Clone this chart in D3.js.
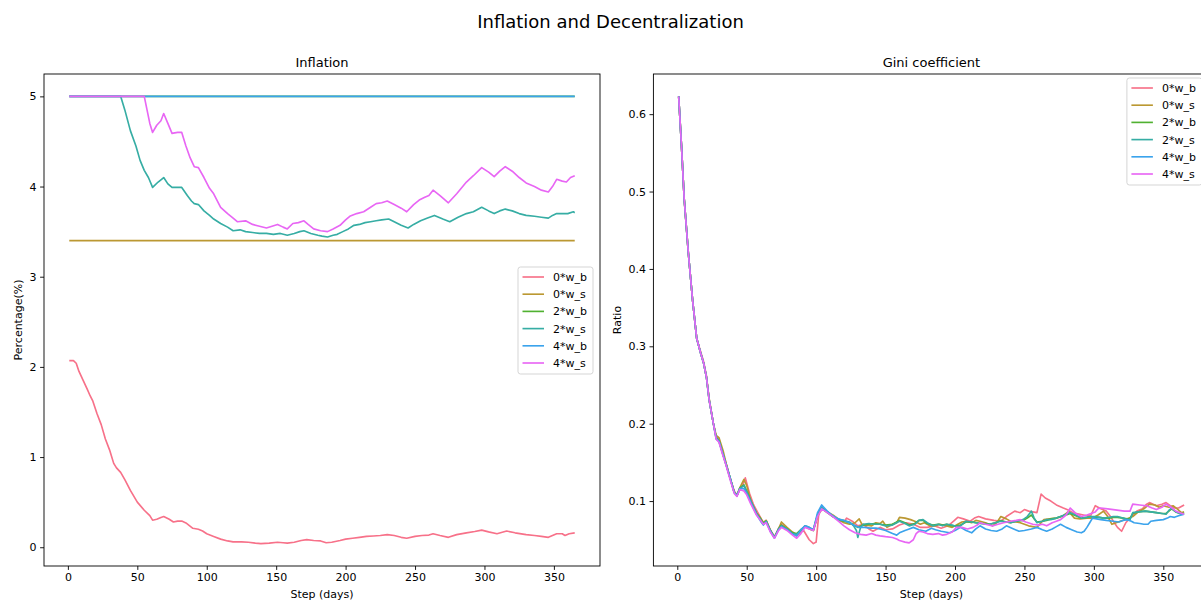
<!DOCTYPE html>
<html>
<head>
<meta charset="utf-8">
<script src="https://cdn.jsdelivr.net/npm/d3@7"></script>
<style>
  body { margin: 0; background: #fff; }
  text { font-family: "DejaVu Sans", sans-serif; fill: #000; }
</style>
</head>
<body>
<div id="chart"></div>
<script>
// ---- DATA ----
const seriesNames = ["0*w_b", "0*w_s", "2*w_b", "2*w_s", "4*w_b", "4*w_s"];
const seriesColors = ["#f77189", "#bb9832", "#50b131", "#36ada4", "#3ba3ec", "#e866f4"];
const xTicks = [0, 50, 100, 150, 200, 250, 300, 350];
const inflationTicks = [0, 1, 2, 3, 4, 5];
const giniTicks = [0.1, 0.2, 0.3, 0.4, 0.5, 0.6];

// inflation, [day, percent]
const inflation0wb = [[1,2.07],[4,2.07],[6,2.04],[8,1.95],[11,1.85],[14,1.75],[16,1.68],[18,1.62],[21,1.48],[24,1.36],[27,1.2],[30,1.08],[33,0.93],[35,0.88],[38,0.83],[41,0.75],[45,0.63],[50,0.5],[55,0.41],[59,0.35],[61,0.3],[64,0.31],[67,0.33],[69,0.34],[73,0.31],[76,0.28],[79,0.29],[82,0.29],[85,0.27],[90,0.21],[94,0.2],[97,0.18],[100,0.15],[105,0.12],[110,0.09],[115,0.07],[119,0.06],[125,0.06],[130,0.055],[135,0.045],[139,0.04],[145,0.045],[151,0.055],[155,0.05],[158,0.045],[163,0.055],[168,0.075],[172,0.085],[177,0.075],[182,0.07],[186,0.05],[190,0.055],[196,0.075],[200,0.09],[205,0.1],[210,0.11],[215,0.12],[220,0.125],[225,0.13],[230,0.14],[235,0.13],[240,0.11],[244,0.1],[250,0.12],[255,0.13],[260,0.135],[263,0.15],[268,0.13],[274,0.11],[280,0.14],[287,0.16],[293,0.175],[298,0.19],[303,0.17],[309,0.15],[316,0.18],[322,0.16],[330,0.14],[336,0.13],[341,0.12],[346,0.11],[352,0.15],[356,0.15],[358,0.13],[361,0.15],[365,0.16]];
const inflation0ws = [[1,3.4],[365,3.4]];
const inflation2wb = [[1,5],[365,5]]; // hidden under 4*w_b in the picture
const inflation2ws = [[1,5],[38,5],[41,4.85],[45,4.62],[49,4.45],[52,4.29],[55,4.18],[58,4.1],[61,3.99],[65,4.05],[69,4.1],[72,4.03],[75,3.99],[79,3.99],[82,3.99],[86,3.9],[89,3.84],[91,3.81],[94,3.8],[98,3.73],[102,3.68],[105,3.64],[110,3.59],[115,3.55],[119,3.51],[124,3.52],[128,3.5],[133,3.49],[138,3.48],[143,3.48],[148,3.47],[153,3.48],[158,3.46],[163,3.48],[167,3.5],[170,3.51],[175,3.48],[180,3.46],[183,3.45],[187,3.44],[191,3.46],[194,3.47],[198,3.5],[202,3.53],[206,3.57],[210,3.58],[214,3.6],[218,3.61],[222,3.62],[226,3.63],[231,3.64],[235,3.61],[240,3.57],[245,3.54],[249,3.58],[254,3.62],[259,3.65],[264,3.68],[270,3.64],[275,3.61],[281,3.66],[287,3.7],[292,3.72],[298,3.77],[303,3.73],[307,3.7],[311,3.73],[315,3.75],[320,3.73],[325,3.7],[330,3.68],[336,3.67],[341,3.66],[346,3.65],[349,3.68],[352,3.7],[356,3.7],[360,3.7],[364,3.72],[365,3.71]];
const inflation4wb = [[1,5],[365,5]];
const inflation4ws = [[1,5],[55,5],[57,4.85],[59,4.7],[61,4.6],[64,4.68],[67,4.73],[69,4.81],[72,4.7],[75,4.59],[79,4.6],[82,4.6],[85,4.45],[88,4.32],[91,4.22],[94,4.21],[98,4.1],[102,3.98],[105,3.92],[110,3.77],[115,3.7],[119,3.65],[122,3.61],[128,3.62],[133,3.58],[138,3.56],[143,3.54],[147,3.56],[151,3.58],[155,3.55],[158,3.53],[162,3.59],[166,3.6],[170,3.62],[173,3.58],[177,3.53],[182,3.51],[187,3.5],[191,3.53],[196,3.57],[200,3.63],[203,3.67],[208,3.7],[213,3.72],[218,3.77],[222,3.81],[226,3.82],[230,3.84],[235,3.8],[240,3.76],[244,3.72],[249,3.8],[253,3.85],[257,3.88],[260,3.9],[263,3.96],[268,3.9],[274,3.82],[280,3.92],[287,4.05],[292,4.12],[298,4.21],[303,4.16],[307,4.11],[311,4.17],[315,4.22],[320,4.17],[325,4.1],[330,4.04],[336,4.0],[341,3.96],[346,3.94],[349,4.0],[352,4.08],[356,4.06],[359,4.05],[362,4.1],[365,4.12]];

// gini coefficient, [day, ratio]
const gini0wb = [[1,.623],[3,.56],[5,.49],[8,.42],[11,.36],[14,.31],[17,.292],[19,.28],[21,.262],[23,.23],[26,.2],[28,.183],[30,.18],[33,.16],[35,.15],[38,.13],[41,.113],[43,.107],[45,.115],[47,.12],[49,.13],[52,.11],[55,.095],[58,.085],[62,.072],[64,.075],[67,.063],[70,.053],[73,.065],[75,.07],[79,.064],[83,.058],[86,.055],[89,.06],[91,.062],[95,.05],[98,.045],[100,.047],[102,.085],[105,.09],[109,.085],[113,.08],[117,.074],[120,.073],[122,.078],[126,.074],[130,.068],[134,.07],[138,.064],[141,.061],[146,.066],[150,.063],[155,.064],[160,.069],[165,.072],[170,.07],[175,.066],[180,.066],[185,.068],[190,.065],[195,.068],[199,.074],[202,.079],[206,.077],[211,.074],[214,.078],[217,.08],[222,.077],[228,.075],[233,.074],[237,.08],[243,.087],[247,.085],[250,.089],[253,.087],[256,.086],[259,.085],[262,.109],[265,.104],[269,.1],[273,.095],[278,.091],[282,.088],[285,.085],[290,.083],[295,.081],[298,.082],[301,.094],[305,.09],[309,.087],[312,.08],[314,.074],[317,.066],[320,.061],[323,.072],[327,.08],[331,.087],[335,.09],[338,.096],[340,.098],[345,.094],[349,.096],[352,.098],[355,.094],[358,.091],[361,.091],[365,.095]];
const gini0ws = [[1,.623],[3,.56],[5,.49],[8,.42],[11,.36],[14,.31],[17,.29],[19,.278],[21,.26],[23,.232],[26,.2],[28,.185],[30,.182],[33,.165],[35,.15],[38,.13],[41,.112],[43,.108],[45,.117],[48,.128],[50,.12],[53,.1],[57,.085],[60,.078],[62,.072],[64,.075],[67,.062],[70,.054],[72,.06],[75,.073],[79,.066],[83,.06],[86,.056],[89,.062],[92,.068],[95,.064],[98,.062],[101,.08],[104,.09],[108,.086],[112,.082],[116,.077],[120,.072],[124,.07],[128,.072],[131,.077],[133,.07],[136,.069],[140,.068],[143,.072],[146,.071],[148,.074],[151,.066],[155,.07],[158,.072],[160,.079],[164,.078],[168,.076],[171,.074],[175,.07],[178,.072],[182,.068],[186,.068],[189,.07],[194,.068],[198,.066],[202,.07],[205,.073],[208,.074],[212,.072],[215,.075],[218,.074],[222,.072],[227,.068],[230,.072],[233,.08],[237,.077],[240,.074],[244,.073],[247,.072],[250,.07],[253,.068],[256,.067],[259,.066],[261,.07],[264,.076],[268,.077],[273,.078],[277,.08],[280,.084],[282,.087],[284,.082],[286,.078],[290,.077],[295,.078],[299,.078],[303,.082],[307,.087],[310,.08],[313,.07],[316,.072],[319,.074],[324,.077],[328,.08],[332,.086],[336,.09],[340,.096],[344,.095],[347,.092],[350,.094],[354,.092],[357,.094],[360,.09],[363,.085],[365,.086]];
const gini2wb = [[1,.623],[3,.56],[5,.49],[8,.42],[11,.36],[14,.31],[17,.29],[19,.278],[21,.26],[23,.23],[26,.2],[28,.182],[30,.178],[33,.16],[35,.148],[38,.13],[41,.111],[43,.107],[45,.117],[48,.121],[50,.113],[53,.1],[57,.084],[60,.077],[62,.071],[64,.074],[67,.062],[70,.053],[73,.064],[75,.069],[79,.064],[83,.059],[86,.058],[89,.063],[92,.067],[95,.065],[98,.062],[101,.082],[104,.091],[108,.085],[112,.08],[116,.076],[120,.074],[124,.072],[127,.069],[130,.066],[134,.069],[138,.07],[142,.071],[146,.07],[150,.069],[155,.07],[160,.075],[164,.072],[167,.069],[171,.071],[174,.075],[177,.075],[180,.071],[184,.069],[188,.07],[191,.069],[194,.07],[198,.068],[201,.068],[204,.069],[208,.073],[212,.073],[215,.072],[219,.071],[222,.071],[225,.07],[229,.072],[233,.075],[237,.073],[240,.072],[244,.074],[249,.075],[252,.078],[255,.082],[257,.077],[259,.073],[263,.074],[266,.075],[269,.077],[273,.078],[276,.08],[280,.082],[283,.084],[287,.081],[291,.078],[295,.079],[298,.08],[301,.079],[304,.079],[307,.078],[311,.078],[314,.079],[317,.079],[321,.078],[324,.077],[326,.077],[328,.084],[332,.086],[337,.087],[341,.086],[345,.085],[349,.084],[352,.084],[354,.087],[356,.09],[359,.086],[363,.084],[365,.084]];
const gini2ws = [[1,.623],[3,.56],[5,.49],[8,.42],[11,.36],[14,.31],[17,.29],[19,.278],[21,.26],[23,.23],[26,.2],[28,.182],[30,.178],[33,.16],[35,.148],[38,.13],[41,.111],[43,.107],[45,.116],[48,.12],[50,.112],[53,.1],[57,.084],[60,.076],[62,.07],[64,.074],[67,.062],[70,.053],[73,.064],[75,.068],[79,.064],[83,.058],[86,.057],[89,.062],[92,.068],[95,.066],[98,.063],[101,.082],[104,.092],[108,.086],[112,.08],[116,.076],[120,.075],[124,.073],[127,.068],[129,.062],[130,.053],[132,.066],[134,.07],[138,.071],[142,.07],[146,.07],[150,.068],[155,.069],[160,.074],[164,.071],[167,.068],[171,.07],[174,.075],[177,.076],[180,.072],[184,.068],[188,.07],[191,.068],[194,.07],[198,.069],[201,.067],[204,.068],[208,.074],[212,.073],[215,.072],[219,.071],[222,.07],[225,.07],[229,.072],[233,.074],[237,.073],[240,.072],[244,.074],[249,.076],[252,.08],[255,.087],[257,.078],[259,.072],[263,.074],[266,.076],[269,.076],[273,.078],[276,.08],[280,.083],[283,.085],[287,.082],[291,.078],[295,.079],[298,.08],[301,.08],[304,.079],[307,.078],[311,.079],[314,.08],[317,.08],[321,.078],[324,.076],[326,.076],[328,.085],[332,.086],[337,.087],[341,.086],[345,.085],[349,.084],[352,.083],[354,.088],[356,.091],[359,.086],[363,.083],[365,.084]];
const gini4wb = [[1,.623],[3,.56],[5,.49],[8,.42],[11,.36],[14,.31],[17,.29],[19,.278],[21,.26],[23,.23],[26,.2],[28,.18],[30,.177],[33,.16],[35,.148],[38,.13],[41,.111],[43,.107],[45,.116],[48,.116],[50,.11],[53,.098],[57,.083],[60,.074],[62,.069],[64,.073],[67,.061],[70,.052],[73,.063],[75,.067],[79,.063],[83,.057],[86,.055],[89,.063],[92,.068],[95,.066],[98,.063],[101,.085],[104,.095],[108,.087],[112,.081],[116,.077],[120,.075],[124,.072],[128,.068],[131,.066],[135,.066],[139,.065],[143,.065],[146,.064],[150,.062],[155,.058],[158,.056],[160,.059],[164,.062],[167,.064],[170,.066],[174,.063],[179,.061],[183,.065],[186,.063],[190,.061],[193,.06],[196,.059],[200,.062],[204,.066],[208,.062],[212,.059],[215,.064],[218,.068],[222,.064],[226,.062],[230,.061],[234,.064],[237,.068],[241,.065],[246,.061],[250,.062],[255,.064],[259,.066],[263,.063],[266,.061],[270,.064],[273,.067],[276,.07],[280,.066],[284,.063],[288,.06],[291,.059],[293,.061],[295,.066],[297,.072],[299,.078],[302,.077],[305,.076],[309,.075],[314,.074],[318,.073],[321,.075],[324,.076],[327,.074],[329,.072],[333,.071],[336,.07],[339,.07],[341,.074],[345,.075],[350,.076],[353,.078],[355,.08],[358,.079],[361,.081],[365,.083]];
const gini4ws = [[1,.623],[3,.56],[5,.49],[8,.42],[11,.36],[14,.31],[17,.29],[19,.278],[21,.26],[23,.23],[26,.2],[28,.18],[30,.176],[33,.158],[35,.147],[38,.128],[41,.11],[43,.106],[45,.115],[48,.113],[50,.108],[53,.096],[57,.082],[60,.075],[62,.07],[64,.072],[67,.06],[70,.052],[73,.062],[75,.066],[79,.062],[83,.056],[86,.052],[89,.058],[92,.066],[95,.064],[98,.062],[101,.08],[104,.09],[108,.085],[112,.08],[116,.074],[120,.068],[124,.063],[128,.059],[132,.057],[136,.056],[140,.058],[143,.056],[146,.055],[150,.054],[155,.053],[158,.051],[160,.049],[164,.047],[167,.046],[170,.05],[172,.058],[174,.061],[177,.06],[180,.058],[184,.057],[188,.058],[191,.056],[194,.057],[198,.06],[201,.066],[205,.066],[209,.064],[213,.066],[216,.069],[218,.072],[222,.07],[227,.068],[231,.07],[235,.072],[240,.074],[244,.075],[247,.076],[251,.073],[256,.07],[260,.069],[263,.07],[266,.068],[270,.072],[273,.074],[276,.076],[280,.082],[283,.091],[287,.084],[291,.08],[295,.082],[298,.084],[301,.086],[303,.09],[305,.091],[310,.09],[314,.089],[318,.088],[322,.087],[326,.087],[328,.096],[333,.095],[338,.094],[342,.091],[345,.089],[349,.092],[352,.096],[355,.093],[359,.087],[362,.085],[365,.083]];

const inflationSeries = [inflation0wb, inflation0ws, inflation2wb, inflation2ws, inflation4wb, inflation4ws];
const giniSeries = [gini0wb, gini0ws, gini2wb, gini2ws, gini4wb, gini4ws];

// ---- LAYOUT ----
const W = 1201, H = 602;
const panelW = 556, panelH = 492, panelTop = 74;

const svg = d3.select("#chart").append("svg")
    .attr("width", W)
    .attr("height", H);

svg.append("text")
    .attr("x", 610.5)
    .attr("y", 28)
    .attr("text-anchor", "middle")
    .attr("font-size", "18px")
    .text("Inflation and Decentralization");

// matplotlib style 5% padding
function padded(lo, hi) {
    const m = (hi - lo) * 0.05;
    return [lo - m, hi + m];
}

function drawPanel(cfg) {
    const g = svg.append("g")
        .attr("transform", `translate(${cfg.left},${panelTop})`);

    const allPts = cfg.series.flat();
    const x = d3.scaleLinear()
        .domain(padded(d3.min(allPts, d => d[0]), d3.max(allPts, d => d[0])))
        .range([0, panelW]);
    const y = d3.scaleLinear()
        .domain(padded(d3.min(allPts, d => d[1]), d3.max(allPts, d => d[1])))
        .range([panelH, 0]);

    const clipId = "clip-" + cfg.id;
    g.append("clipPath").attr("id", clipId)
        .append("rect").attr("width", panelW).attr("height", panelH);

    const line = d3.line()
        .x(d => x(d[0]))
        .y(d => y(d[1]));

    const lines = g.append("g").attr("clip-path", `url(#${clipId})`);
    cfg.series.forEach((s, i) => {
        lines.append("path")
            .datum(s)
            .attr("fill", "none")
            .attr("stroke", seriesColors[i])
            .attr("stroke-width", 1.65)
            .attr("stroke-linejoin", "round")
            .attr("d", line);
    });

    const xAxis = g.append("g").attr("transform", `translate(0,${panelH})`)
        .call(d3.axisBottom(x).tickValues(xTicks).tickSizeOuter(0).tickSize(3.9).tickPadding(3.5));
    const yAxis = g.append("g")
        .call(d3.axisLeft(y).tickValues(cfg.yTicks).tickFormat(cfg.yFormat).tickSizeOuter(0).tickSize(3.9).tickPadding(3.5));
    [xAxis, yAxis].forEach(a => {
        a.select(".domain").remove();
        a.selectAll("text").attr("font-size", "11px").attr("font-family", "DejaVu Sans").attr("fill", "#000");
        a.selectAll("line").attr("stroke", "#000").attr("stroke-width", 0.9);
    });

    g.append("rect")
        .attr("width", panelW)
        .attr("height", panelH)
        .attr("fill", "none")
        .attr("stroke", "#000")
        .attr("stroke-width", 0.9);

    g.append("text")
        .attr("x", panelW / 2)
        .attr("y", -7)
        .attr("text-anchor", "middle")
        .attr("font-size", "13px")
        .text(cfg.title);

    g.append("text")
        .attr("x", panelW / 2)
        .attr("y", panelH + 32)
        .attr("text-anchor", "middle")
        .attr("font-size", "11px")
        .text("Step (days)");

    g.append("text")
        .attr("transform", `translate(${cfg.yLabelX},${panelH / 2}) rotate(-90)`)
        .attr("text-anchor", "middle")
        .attr("font-size", "11px")
        .text(cfg.yLabel);

    // legend
    const lg = g.append("g").attr("transform", `translate(${cfg.legend[0]},${cfg.legend[1]})`);
    lg.append("rect")
        .attr("width", 75)
        .attr("height", 107)
        .attr("rx", 2.5)
        .attr("fill", "#fff")
        .attr("fill-opacity", 0.8)
        .attr("stroke", "#d0d0d0")
        .attr("stroke-width", 0.9);
    seriesNames.forEach((name, i) => {
        const yy = 10 + i * 17.2;
        lg.append("line")
            .attr("x1", 4.5).attr("x2", 26)
            .attr("y1", yy).attr("y2", yy)
            .attr("stroke", seriesColors[i])
            .attr("stroke-width", 1.65);
        lg.append("text")
            .attr("x", 35)
            .attr("y", yy + 4)
            .attr("font-size", "11px")
            .text(name);
    });
}

drawPanel({
    id: "infl", left: 44, series: inflationSeries, title: "Inflation",
    yTicks: inflationTicks, yFormat: d3.format("d"),
    yLabel: "Percentage(%)", yLabelX: -22,
    legend: [474, 193]
});

drawPanel({
    id: "gini", left: 653.4, series: giniSeries, title: "Gini coefficient",
    yTicks: giniTicks, yFormat: d3.format(".1f"),
    yLabel: "Ratio", yLabelX: -32,
    legend: [473.5, 4]
});
</script>
</body>
</html>
